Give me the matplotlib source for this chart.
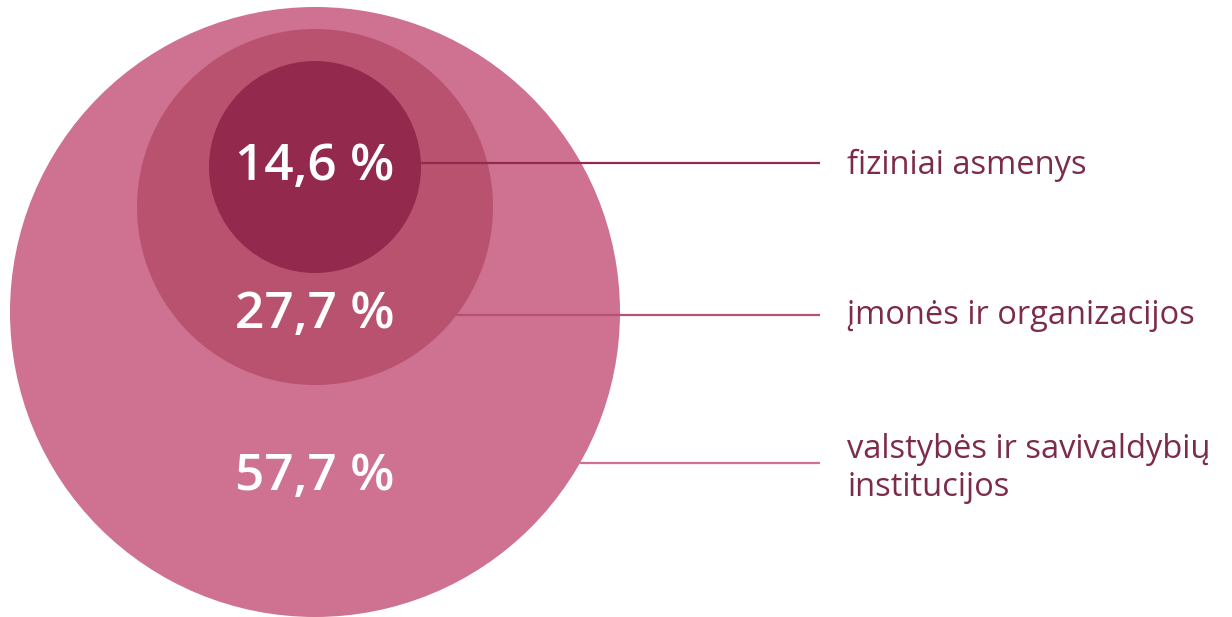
import matplotlib.pyplot as plt
from matplotlib.patches import Circle

# data: share of applicants by group
labels = ['fiziniai asmenys', 'įmonės ir organizacijos',
          'valstybės ir savivaldybių\ninstitucijos']
values = [14.6, 27.7, 57.7]
colors = ['#93294d', '#b9526f', '#cf7191']

# layout (pixels), inner to outer circle
circles = [(315, 167, 106), (315, 207, 178), (315, 312, 305)]
value_y = [167, 315, 477]
line_y = [163, 315, 463]
label_y = [165, 316, 468]

plt.rcParams['font.family'] = ['Open Sans', 'DejaVu Sans']

fig = plt.figure(figsize=(12.32, 6.17), dpi=100)
ax = fig.add_axes([0, 0, 1, 1])
ax.set_xlim(0, 1232)
ax.set_ylim(617, 0)
ax.set_aspect('equal')
ax.axis('off')

# outer circle first so inner ones sit on top
for (cx, cy, r), c in reversed(list(zip(circles, colors))):
    ax.add_patch(Circle((cx, cy), r, color=c, lw=0))

for i, (cx, cy, r) in enumerate(circles):
    dy = line_y[i] - cy
    x0 = cx + (r ** 2 - dy ** 2) ** 0.5
    ax.plot([x0, 820], [line_y[i], line_y[i]], color=colors[i], lw=1.6,
            solid_capstyle='butt', zorder=3)
    ax.text(315, value_y[i], f'{values[i]:.1f} %'.replace('.', ','),
            color='white', fontsize=37, fontweight='semibold',
            ha='center', va='center', zorder=4)
    ax.text(847, label_y[i], labels[i], color='#7d2b4c', fontsize=23.5,
            ha='left', va='center', linespacing=1.2, zorder=4)

fig.savefig('out.png', dpi=100)
